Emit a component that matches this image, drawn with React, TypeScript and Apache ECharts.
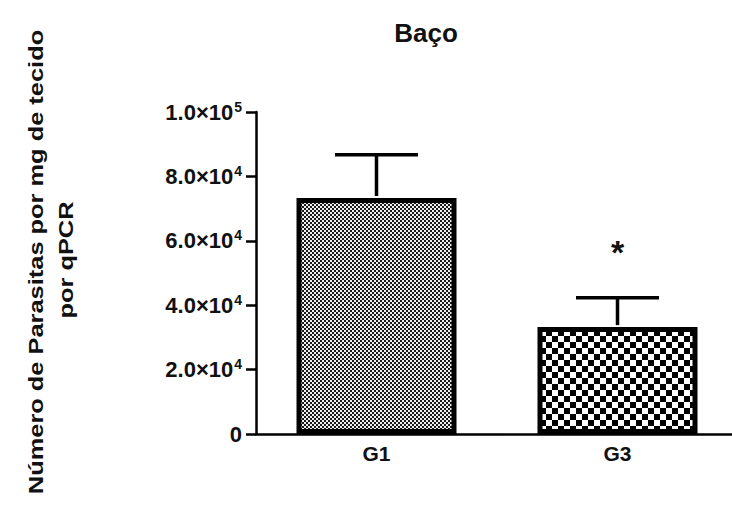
import React, { useEffect, useRef } from "react";
import * as echarts from "echarts";

const categories = ["G1", "G3"];
const means = [73300, 33200];
const sem = [13400, 9100];
const significance = ["", "*"];
const yTicks = [0, 20000, 40000, 60000, 80000, 100000];
const yTickLabels = ["0", "2.0×10^4", "4.0×10^4", "6.0×10^4", "8.0×10^4", "1.0×10^5"];
const title = "Baço";
const yTitleLines = ["Número de Parasitas por mg de tecido", "por qPCR"];

const FONT = "'Liberation Sans', Arial, Helvetica, sans-serif";

function makeChecker(cell: number, dark: string, light: string): HTMLCanvasElement {
  const c = document.createElement("canvas");
  c.width = cell * 2;
  c.height = cell * 2;
  const ctx = c.getContext("2d")!;
  ctx.fillStyle = light;
  ctx.fillRect(0, 0, cell * 2, cell * 2);
  ctx.fillStyle = dark;
  ctx.fillRect(0, 0, cell, cell);
  ctx.fillRect(cell, cell, cell, cell);
  return c;
}

export default function App() {
  const ref = useRef<HTMLDivElement>(null);
  useEffect(() => {
    if (!ref.current) return;
    const chart = echarts.init(ref.current, null, { renderer: "svg" });
    const fine = makeChecker(2, "#1a1a1a", "#eeeeee");
    const coarse = makeChecker(6, "#000000", "#ffffff");
    const patterns = [fine, coarse];

    const labelMap: Record<number, string> = {};
    yTicks.forEach((t, i) => (labelMap[t] = yTickLabels[i]));

    chart.setOption({
      animation: false,
      backgroundColor: "#ffffff",
      title: {
        text: title,
        left: 421,
        top: 15,
        textAlign: "center",
        textStyle: { fontFamily: FONT, fontWeight: "bold", fontSize: 26, color: "#111" },
      },
      grid: { left: 256, top: 112, width: 482, height: 322, containLabel: false },
      xAxis: {
        type: "category",
        data: categories,
        axisLine: { lineStyle: { color: "#000", width: 2.5 } },
        axisTick: { alignWithLabel: true, length: 7, lineStyle: { color: "#000", width: 2.5 } },
        axisLabel: { fontFamily: FONT, fontWeight: "bold", fontSize: 21, color: "#111", margin: 9 },
      },
      yAxis: {
        type: "value",
        min: 0,
        max: 100000,
        interval: 20000,
        splitLine: { show: false },
        axisLine: { show: true, lineStyle: { color: "#000", width: 2.5 } },
        axisTick: { show: true, length: 10, lineStyle: { color: "#000", width: 2.5 } },
        axisLabel: {
          margin: 14,
          color: "#111",
          fontFamily: FONT,
          fontWeight: "bold",
          fontSize: 22,
          formatter: (v: number) => {
            const s = labelMap[v] ?? String(v);
            const parts = s.split("^");
            if (parts.length === 1) return `{a|${parts[0]}}`;
            return `{a|${parts[0]}}{b|${parts[1]}}`;
          },
          rich: {
            a: { fontFamily: FONT, fontWeight: "bold", fontSize: 22, color: "#111" },
            b: { fontFamily: FONT, fontWeight: "bold", fontSize: 14, color: "#111", padding: [0, 0, 11, 1] },
          },
        },
      },
      graphic: [
        {
          type: "text",
          x: 36,
          y: 262,
          rotation: Math.PI / 2,
          scaleX: 1.21,
          style: {
            text: yTitleLines[0],
            fontFamily: FONT,
            fontWeight: "bold",
            fontSize: 21,
            fill: "#111",
            align: "center",
            verticalAlign: "middle",
          },
        },
        {
          type: "text",
          x: 66,
          y: 260,
          rotation: Math.PI / 2,
          scaleX: 1.21,
          style: {
            text: yTitleLines[1],
            fontFamily: FONT,
            fontWeight: "bold",
            fontSize: 21,
            fill: "#111",
            align: "center",
            verticalAlign: "middle",
          },
        },
      ],
      series: [
        {
          type: "bar",
          barWidth: 160,
          data: means.map((v, i) => ({
            value: v,
            itemStyle: {
              color: { image: patterns[i], repeat: "repeat", imageWidth: patterns[i].width, imageHeight: patterns[i].height },
              borderColor: "#000",
              borderWidth: 5,
            },
          })),
          z: 2,
        },
        {
          type: "custom",
          z: 3,
          data: means.map((v, i) => [i, v, sem[i]]),
          renderItem: (params: any, api: any) => {
            const i = api.value(0);
            const m = api.value(1);
            const e = api.value(2);
            const base = api.coord([i, m]);
            const top = api.coord([i, m + e]);
            const half = 41.5;
            const children: any[] = [
              {
                type: "line",
                shape: { x1: base[0], y1: base[1] - 2, x2: base[0], y2: top[1] },
                style: { stroke: "#000", lineWidth: 3.5 },
              },
              {
                type: "line",
                shape: { x1: base[0] - half, y1: top[1], x2: base[0] + half, y2: top[1] },
                style: { stroke: "#000", lineWidth: 3.5 },
              },
            ];
            const sig = significance[i];
            if (sig) {
              children.push({
                type: "text",
                x: base[0],
                y: top[1] - 46,
                style: {
                  text: sig,
                  fontFamily: FONT,
                  fontWeight: "bold",
                  fontSize: 34,
                  fill: "#111",
                  align: "center",
                  verticalAlign: "middle",
                },
              });
            }
            return { type: "group", children };
          },
        },
      ],
    });
    return () => chart.dispose();
  }, []);
  return (
    <div style={{ position: "absolute", left: 0, top: 0, width: 732, height: 513, overflow: "hidden", background: "#fff" }}>
      <div ref={ref} style={{ width: 742, height: 513 }} />
    </div>
  );
}
